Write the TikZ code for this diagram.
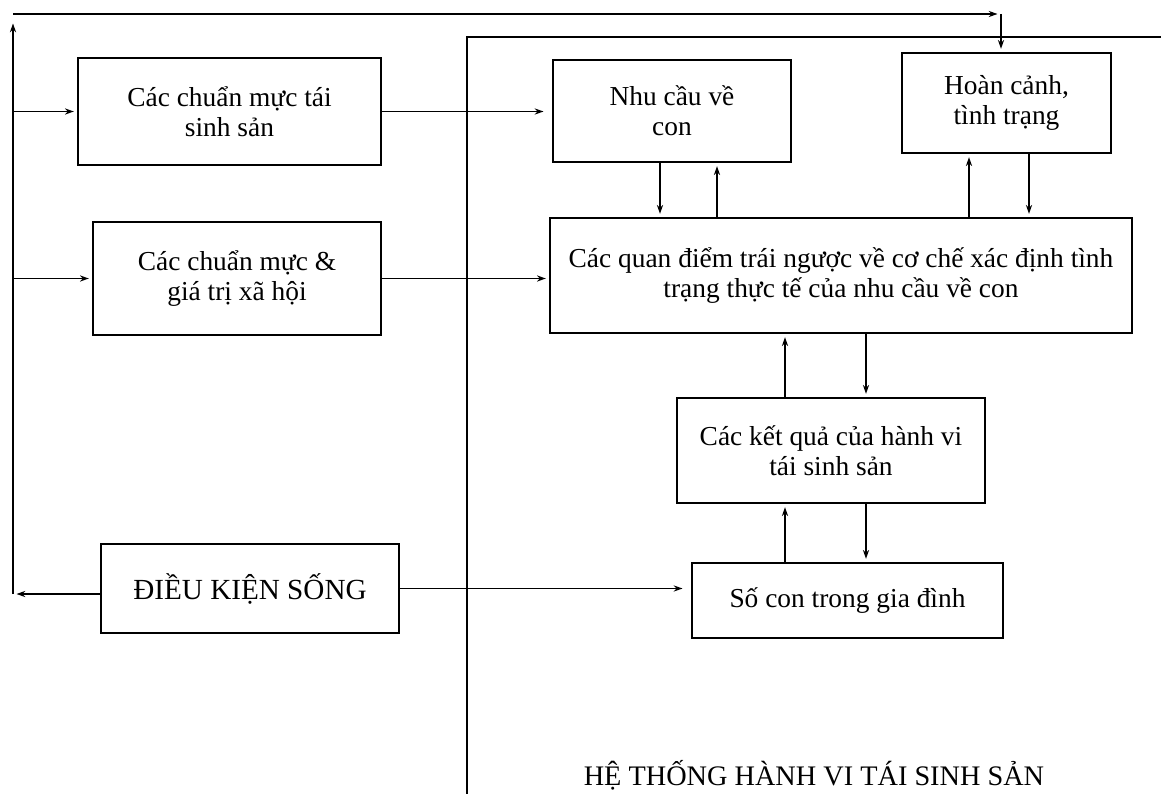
\documentclass[tikz,border=0pt]{standalone}
\usepackage{fontspec}
\setmainfont{Liberation Serif}
\usetikzlibrary{arrows.meta}
\begin{document}
\begin{tikzpicture}[x=0.02cm,y=-0.02cm,
  box/.style={draw,line width=0.8pt,rectangle,align=center,inner sep=0pt,
    font=\fontsize{15.6}{17}\selectfont},
  arr/.style={line width=0.8pt,-{Stealth[length=5pt,width=3.5pt]},shorten >=2pt},
  ln/.style={line width=0.8pt}]
\useasboundingbox (0,0) rectangle (1161,794);
% boxes
\node[box,minimum width=303*0.02cm,minimum height=107*0.02cm] (b1) at (229.5,111.5) {Các chuẩn mực tái\\sinh sản};
\node[box,minimum width=238*0.02cm,minimum height=102*0.02cm] (b2) at (672,111) {Nhu cầu về\\con};
\node[box,minimum width=209*0.02cm,minimum height=100*0.02cm] (b3) at (1006.5,103) {Hoàn cảnh,\\tình trạng};
\node[box,minimum width=288*0.02cm,minimum height=113*0.02cm] (b4) at (237,278.5) {Các chuẩn mực \&\\giá trị xã hội};
\node[box,minimum width=582*0.02cm,minimum height=115*0.02cm] (b5) at (841,275.5) {Các quan điểm trái ngược về cơ chế xác định tình\\trạng thực tế của nhu cầu về con};
\node[box,minimum width=308*0.02cm,minimum height=105*0.02cm] (b6) at (831,450.5) {Các kết quả của hành vi\\tái sinh sản};
\node[box,minimum width=311*0.02cm,minimum height=75*0.02cm] (b7) at (847.5,600.5) {Số con trong gia đình};
\node[box,minimum width=298*0.02cm,minimum height=89*0.02cm,font=\fontsize{16.6}{18}\selectfont] (b8) at (250,588.5) {ĐIỀU KIỆN SỐNG};
\node[font=\fontsize{16.1}{18}\selectfont] (lbl) at (814,775) {HỆ THỐNG HÀNH VI TÁI SINH SẢN};
% helper coordinates
\coordinate (LB) at (13,594);
\coordinate (LT) at (13,14);
\coordinate (LA) at (13,20);
\coordinate (RT) at (1001,14);
\coordinate (S0) at (467,794);
\coordinate (S1) at (467,37);
\coordinate (S2) at (1161,37);
\coordinate (xa) at (660,0);
\coordinate (xb) at (717,0);
\coordinate (xc) at (969,0);
\coordinate (xd) at (1029,0);
\coordinate (xe) at (785,0);
\coordinate (xf) at (866,0);
% system boundary
\draw[ln] (S0) -- (S1) -- (S2);
% left feedback loop
\draw[arr] (b8.west |- LB) -- (LB);
\draw[arr] (LB) -- (LA);
\draw[arr] (LT) -- (RT);
\draw[arr] (RT) -- (b3.north -| RT);
\draw[arr] (LT |- b1.west) -- (b1.west);
\draw[arr] (LT |- b4.west) -- (b4.west);
% horizontal inputs
\draw[arr,shorten >=5pt] (b1.east) -- (b1.east -| b2.west);
\draw[arr] (b4.east) -- (b4.east -| b5.west);
\draw[arr,shorten >=5pt] (b8.east) -- (b8.east -| b7.west);
% vertical links
\draw[arr] (b2.south -| xa) -- (b5.north -| xa);
\draw[arr] (b5.north -| xb) -- (b2.south -| xb);
\draw[arr] (b5.north -| xc) -- (b3.south -| xc);
\draw[arr] (b3.south -| xd) -- (b5.north -| xd);
\draw[arr] (b6.north -| xe) -- (b5.south -| xe);
\draw[arr] (b5.south -| xf) -- (b6.north -| xf);
\draw[arr] (b7.north -| xe) -- (b6.south -| xe);
\draw[arr] (b6.south -| xf) -- (b7.north -| xf);
\end{tikzpicture}
\end{document}
